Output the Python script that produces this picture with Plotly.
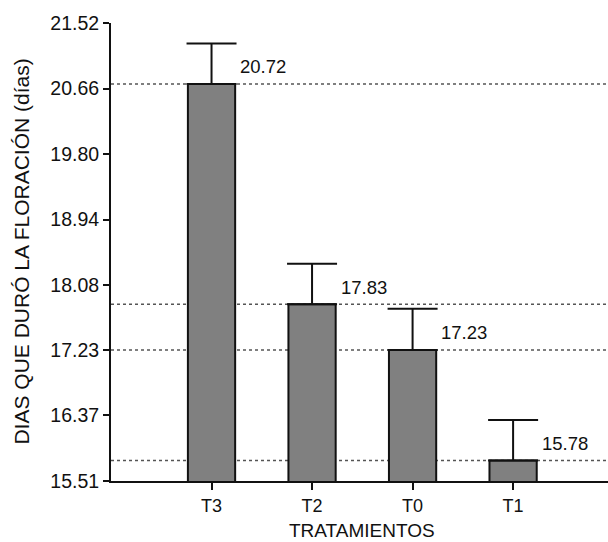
import plotly.graph_objects as go

# Duración de la floración por tratamiento
categories = ["T3", "T2", "T0", "T1"]
mean_days = [20.72, 17.83, 17.23, 15.78]
error_up = [0.53, 0.53, 0.54, 0.53]
y_ticks = [15.51, 16.37, 17.23, 18.08, 18.94, 19.80, 20.66, 21.52]

FONT = "Liberation Sans, Arial, sans-serif"

fig = go.Figure()

fig.add_trace(go.Bar(
    x=categories,
    y=mean_days,
    width=0.47,
    marker=dict(color="#808080", line=dict(color="#111111", width=2)),
    error_y=dict(type="data", symmetric=False, array=error_up,
                 arrayminus=[0] * len(error_up),
                 color="#111111", thickness=2, width=25),
    showlegend=False,
))

# dotted reference line at each mean, behind the bars
for v in mean_days:
    fig.add_shape(type="line", xref="paper", x0=0, x1=1, yref="y", y0=v, y1=v,
                  line=dict(color="#555555", width=1.5, dash="dot"), layer="below")

# value labels next to each bar top
for i, v in enumerate(mean_days):
    fig.add_annotation(x=i + 0.235, y=v, xref="x", yref="y", text=f"{v:.2f}",
                       showarrow=False, xanchor="left", yanchor="middle",
                       xshift=3, yshift=17, font=dict(family=FONT, size=18.5, color="#111111"))

fig.add_annotation(x=-0.182, y=0.5, xref="paper", yref="paper",
                   text="DIAS QUE DURÓ LA FLORACIÓN (días)", textangle=-90,
                   showarrow=False, xanchor="center", yanchor="middle",
                   font=dict(family=FONT, size=21, color="#111111"))
fig.add_annotation(x=0.506, y=-0.109, xref="paper", yref="paper",
                   text="TRATAMIENTOS", showarrow=False,
                   xanchor="center", yanchor="middle",
                   font=dict(family=FONT, size=19, color="#111111"))

fig.update_layout(
    width=608, height=542,
    margin=dict(l=111, r=0, t=23, b=61),
    plot_bgcolor="white", paper_bgcolor="white",
    font=dict(family=FONT, color="#111111"),
    bargap=0.5,
)
fig.update_xaxes(
    type="category", range=[-1, 3.944],
    showline=True, linecolor="#111111", linewidth=2,
    ticks="outside", ticklen=7, tickwidth=2, tickcolor="#111111",
    tickfont=dict(family=FONT, size=18), showgrid=False, zeroline=False,
)
fig.update_yaxes(
    range=[15.51, 21.52], tickvals=y_ticks, tickformat=".2f",
    showline=True, linecolor="#111111", linewidth=2,
    ticks="outside", ticklen=6, tickwidth=2, tickcolor="#111111",
    tickfont=dict(family=FONT, size=19.5), showgrid=False, zeroline=False,
)

fig.write_html("out.html")
